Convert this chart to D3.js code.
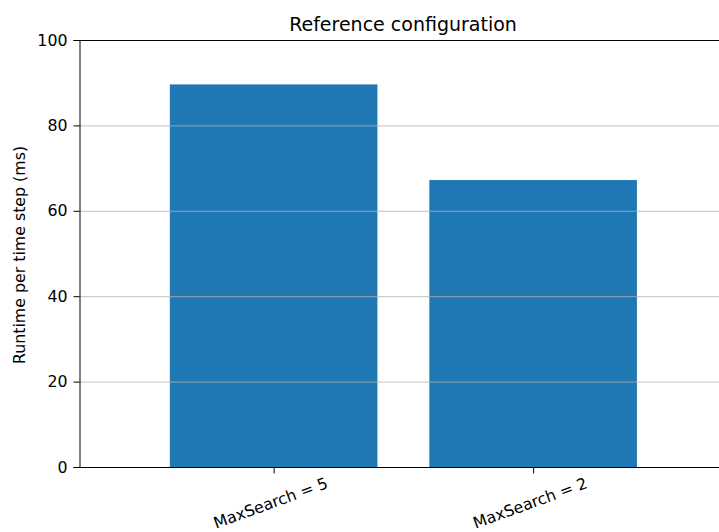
<!DOCTYPE html>
<html>
<head>
<meta charset="utf-8">
<script src="https://cdn.jsdelivr.net/npm/d3@7"></script>
<style>
  html, body { margin: 0; padding: 0; background: #fff; }
  svg { display: block; }
  text { font-family: "DejaVu Sans", sans-serif; fill: #000; }
</style>
</head>
<body>
<svg id="chart" width="719" height="532"></svg>
<script>
const categories = ["MaxSearch = 5", "MaxSearch = 2"];
const values = [89.6, 67.2];
const yTicks = [0, 20, 40, 60, 80, 100];
const title = "Reference configuration";
const yLabel = "Runtime per time step (ms)";

const svg = d3.select("#chart");
const mLeft = 79, mTop = 40, mBottom = 467;
const fs = 15.8;
// x in data units: bar centers at 0,1, width 0.8; xlim -0.75..1.75 (right edge clipped by figure)
const x = d3.scaleLinear().domain([-0.75, 1.75]).range([mLeft, mLeft + 2.5 * 259.5]);
const y = d3.scaleLinear().domain([0, 100]).range([mBottom, mTop]);
const barW = 0.8;

// bars
svg.append("g").selectAll("rect").data(values).join("rect")
  .attr("x", (d, i) => x(i - barW / 2))
  .attr("width", (d, i) => x(i + barW / 2) - x(i - barW / 2))
  .attr("y", d => y(d))
  .attr("height", d => y(0) - y(d))
  .attr("fill", "#1f77b4");

// grid lines (drawn above bars, as in reference)
svg.append("g").selectAll("line").data(yTicks.filter(t => t > 0 && t < 100)).join("line")
  .attr("x1", mLeft).attr("x2", 719)
  .attr("y1", d => y(d) + 0.5).attr("y2", d => y(d) + 0.5)
  .attr("stroke", "#b0b0b0").attr("stroke-width", 1).attr("stroke-opacity", 0.8);

// y axis
const yAxis = d3.axisLeft(y).tickValues(yTicks).tickSize(6).tickPadding(6).tickFormat(d3.format("d"));
const gy = svg.append("g").attr("transform", `translate(${mLeft + 0.5},0)`).call(yAxis);
gy.select(".domain").attr("stroke", "#000").attr("stroke-width", 1);
gy.selectAll(".tick line").attr("stroke", "#000");
gy.selectAll(".tick text").style("font-size", fs + "px").style("font-family", "DejaVu Sans, sans-serif").attr("fill", "#000");

// top spine
svg.append("line").attr("x1", mLeft).attr("x2", 719).attr("y1", mTop + 0.5).attr("y2", mTop + 0.5)
  .attr("stroke", "#000").attr("stroke-width", 1);

// x axis
const xAxis = d3.axisBottom(x).tickValues(categories.map((c, i) => i)).tickSize(6).tickFormat("");
const gx = svg.append("g").attr("transform", `translate(0,${mBottom + 0.5})`).call(xAxis);
gx.select(".domain").remove();
gx.selectAll(".tick line").attr("stroke", "#000");
svg.append("line").attr("x1", mLeft).attr("x2", 719).attr("y1", mBottom + 0.5).attr("y2", mBottom + 0.5)
  .attr("stroke", "#000").attr("stroke-width", 1);

// rotated category labels
svg.append("g").selectAll("text").data(categories).join("text")
  .attr("transform", (d, i) => `translate(${x(i) - 3},${503}) rotate(-20)`)
  .attr("text-anchor", "middle")
  .attr("dominant-baseline", "central")
  .style("font-size", fs + "px")
  .text(d => d);

// title
svg.append("text").attr("x", 403).attr("y", 31)
  .attr("text-anchor", "middle").style("font-size", "19px").text(title);

// y label
svg.append("text").attr("transform", `translate(25,255) rotate(-90)`)
  .attr("text-anchor", "middle").style("font-size", fs + "px").text(yLabel);
</script>
</body>
</html>
